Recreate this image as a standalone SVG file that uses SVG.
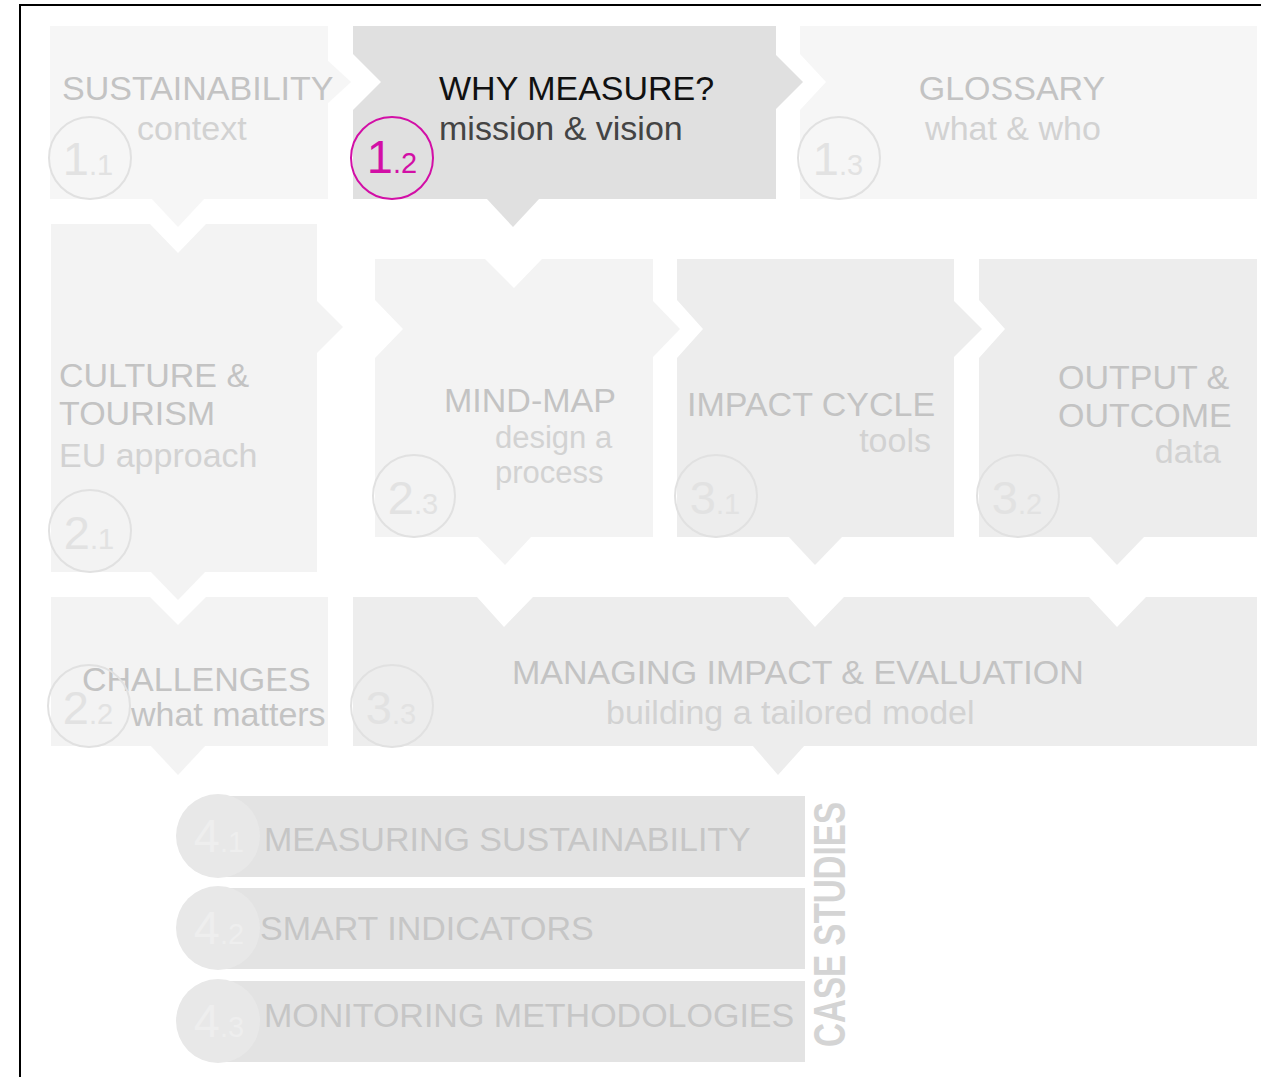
<svg xmlns="http://www.w3.org/2000/svg" width="1261" height="1077" viewBox="0 0 1261 1077">
<style>
  text { font-family: "Liberation Sans", Arial, Helvetica, sans-serif; }
  .t { font-size: 34px; fill: #c3c3c3; }
  .s { font-size: 34px; fill: #d2d2d2; }
  .f1 { fill: #f6f6f6; }
  .f2 { fill: #f3f3f3; }
  .f3 { fill: #ededed; }
  .fa { fill: #e0e0e0; }
  .ring { fill: none; stroke: #e1e1e1; stroke-width: 2; }
  .num { fill: #e2e2e2; }
  .big { font-size: 47px; }
  .sm { font-size: 29px; }
  .bar { fill: #e3e3e3; }
  .disc { fill: #e8e8e8; }
  .cnum { fill: #eeeeee; }
  .ct { font-size: 34px; fill: #c6c6c6; }
</style>

<!-- frame -->
<path d="M20,1077 V5 H1261" fill="none" stroke="#000" stroke-width="2"/>

<!-- connectors (pointer tips) -->
<g id="connectors">
  <polygon class="f1" points="327,60 351,82 327,104"/>
  <polygon class="f1" points="151,198 178,227 205,198"/>
  <polygon class="fa" points="775,54 803,82 775,110"/>
  <polygon class="fa" points="486,198 513,227 540,198"/>
  <polygon class="f2" points="316,300 343,327 316,354"/>
  <polygon class="f2" points="150,571 178,600 206,571"/>
  <polygon class="f2" points="652,300 680,329 652,358"/>
  <polygon class="f2" points="477,536 505,565 532,536"/>
  <polygon class="f3" points="953,300 982,329 953,358"/>
  <polygon class="f3" points="788,536 815,565 843,536"/>
  <polygon class="f3" points="1090,536 1117,565 1145,536"/>
  <polygon class="f2" points="150,745 178,775 206,745"/>
  <polygon class="f3" points="752,745 778,775 805,745"/>
</g>

<!-- 1.1 -->
<g id="n11">
  <rect class="f1" x="50" y="26" width="278" height="173"/>
  <text class="t" x="62" y="100">SUSTAINABILITY</text>
  <text class="s" x="137" y="140">context</text>
  <circle class="ring" cx="90" cy="158" r="41"/>
  <text class="num" x="88" y="175" text-anchor="middle"><tspan class="big">1</tspan><tspan class="sm">.1</tspan></text>
</g>

<!-- 1.2 -->
<g id="n12">
  <polygon class="fa" points="353,26 776,26 776,199 353,199 353,110 381,82 353,54"/>
  <text x="439" y="100" font-size="34" fill="#111">WHY MEASURE?</text>
  <text x="439" y="140" font-size="34" fill="#444">mission &amp; vision</text>
  <circle cx="392" cy="158" r="41" fill="none" stroke="#d20fa6" stroke-width="2"/>
  <text x="392" y="173" text-anchor="middle" fill="#d20fa6"><tspan class="big">1</tspan><tspan class="sm">.2</tspan></text>
</g>

<!-- 1.3 -->
<g id="n13">
  <polygon class="f1" points="800,26 1257,26 1257,199 800,199 800,110 826,82 800,54"/>
  <text class="t" x="1012" y="100" text-anchor="middle">GLOSSARY</text>
  <text class="s" x="1013" y="140" text-anchor="middle">what &amp; who</text>
  <circle class="ring" cx="839" cy="158" r="41"/>
  <text class="num" x="838" y="175" text-anchor="middle"><tspan class="big">1</tspan><tspan class="sm">.3</tspan></text>
</g>

<!-- 2.1 -->
<g id="n21">
  <polygon class="f2" points="51,224 150,224 178,253 206,224 317,224 317,572 51,572"/>
  <text class="t" x="59" y="387">CULTURE &amp;</text>
  <text class="t" x="59" y="425">TOURISM</text>
  <text class="s" x="59" y="467">EU approach</text>
  <circle class="ring" cx="90" cy="531" r="41"/>
  <text class="num" x="89" y="549" text-anchor="middle"><tspan class="big">2</tspan><tspan class="sm">.1</tspan></text>
</g>

<!-- 2.3 -->
<g id="n23">
  <polygon class="f2" points="375,259 485,259 514,288 542,259 653,259 653,537 375,537 375,358 403,329 375,300"/>
  <text class="t"><tspan x="444" y="412">MIND-MAP</tspan><tspan x="495" y="448" font-size="31" fill="#d2d2d2">design a</tspan><tspan x="495" y="483" font-size="31" fill="#d2d2d2">process</tspan></text>
  <circle class="ring" cx="414" cy="496" r="41"/>
  <text class="num" x="413" y="514" text-anchor="middle"><tspan class="big">2</tspan><tspan class="sm">.3</tspan></text>
</g>

<!-- 3.1 -->
<g id="n31">
  <polygon class="f3" points="677,259 954,259 954,537 677,537 677,358 703,329 677,300"/>
  <text class="t" x="687" y="416">IMPACT CYCLE</text>
  <text class="s" x="931" y="452" text-anchor="end">tools</text>
  <circle class="ring" cx="716" cy="496" r="41"/>
  <text class="num" x="715" y="514" text-anchor="middle"><tspan class="big">3</tspan><tspan class="sm">.1</tspan></text>
</g>

<!-- 3.2 -->
<g id="n32">
  <polygon class="f3" points="979,259 1257,259 1257,537 979,537 979,358 1005,329 979,300"/>
  <text class="t" x="1058" y="389">OUTPUT &amp;</text>
  <text class="t" x="1058" y="427">OUTCOME</text>
  <text class="s" x="1221" y="463" text-anchor="end">data</text>
  <circle class="ring" cx="1018" cy="496" r="41"/>
  <text class="num" x="1017" y="514" text-anchor="middle"><tspan class="big">3</tspan><tspan class="sm">.2</tspan></text>
</g>

<!-- 2.2 -->
<g id="n22">
  <polygon class="f2" points="51,597 150,597 178,625 206,597 328,597 328,746 51,746"/>
  <text class="t" x="82" y="691">CHALLENGES</text>
  <text class="t" x="131" y="726" fill="#c9c9c9">what matters</text>
  <circle class="ring" cx="89" cy="706" r="41"/>
  <text class="num" x="88" y="724" text-anchor="middle"><tspan class="big">2</tspan><tspan class="sm">.2</tspan></text>
</g>

<!-- 3.3 -->
<g id="n33">
  <polygon class="f3" points="353,597 477,597 504,627 533,597 788,597 815,627 844,597 1089,597 1117,627 1146,597 1257,597 1257,746 353,746"/>
  <text class="t" x="512" y="684">MANAGING IMPACT &amp; EVALUATION</text>
  <text class="s" x="606" y="724">building a tailored model</text>
  <circle class="ring" cx="392" cy="706" r="41"/>
  <text class="num" x="391" y="724" text-anchor="middle"><tspan class="big">3</tspan><tspan class="sm">.3</tspan></text>
</g>

<!-- case studies -->
<g id="n41">
  <rect class="bar" x="218" y="796" width="587" height="81"/>
  <circle class="disc" cx="218" cy="836" r="42"/>
  <text class="cnum" x="219" y="852" text-anchor="middle"><tspan class="big">4</tspan><tspan class="sm">.1</tspan></text>
  <text class="ct" x="264" y="851">MEASURING SUSTAINABILITY</text>
</g>
<g id="n42">
  <rect class="bar" x="218" y="888" width="587" height="81"/>
  <circle class="disc" cx="218" cy="928" r="42"/>
  <text class="cnum" x="219" y="944" text-anchor="middle"><tspan class="big">4</tspan><tspan class="sm">.2</tspan></text>
  <text class="ct" x="260" y="940">SMART INDICATORS</text>
</g>
<g id="n43">
  <rect class="bar" x="218" y="981" width="587" height="81"/>
  <circle class="disc" cx="218" cy="1021" r="42"/>
  <text class="cnum" x="219" y="1037" text-anchor="middle"><tspan class="big">4</tspan><tspan class="sm">.3</tspan></text>
  <text class="ct" x="264" y="1027">MONITORING METHODOLOGIES</text>
</g>
<g id="case-studies-label">
  <text transform="translate(845,1047) rotate(-90)" x="0" y="0" font-size="44" font-weight="bold" fill="#d4d4d4" textLength="245" lengthAdjust="spacingAndGlyphs" style="font-family:'Liberation Sans Narrow','Liberation Sans',Arial,sans-serif">CASE STUDIES</text>
</g>
</svg>
